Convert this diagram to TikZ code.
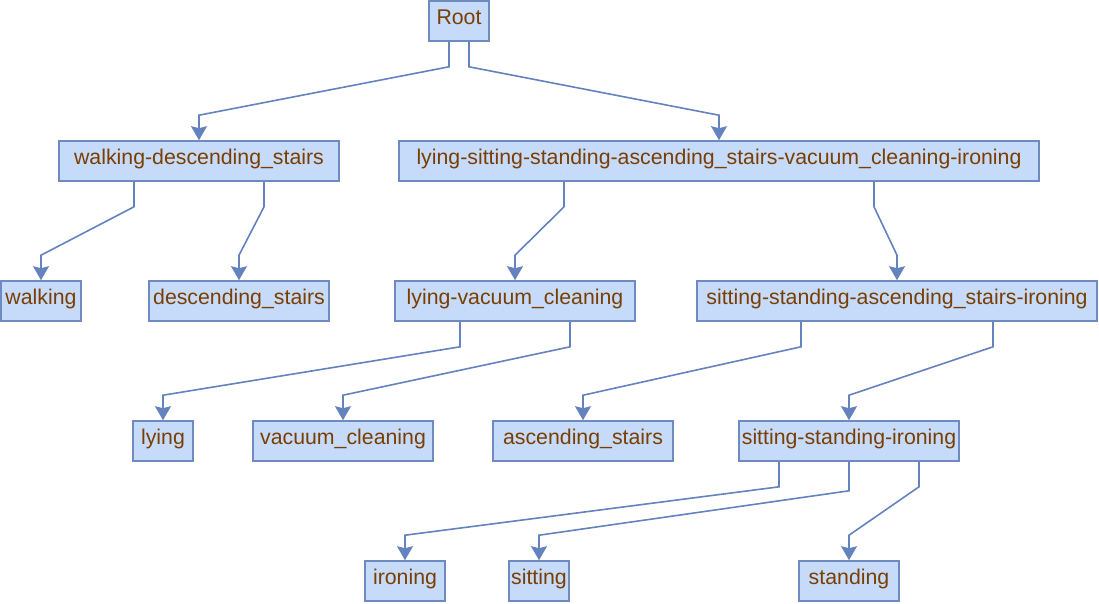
\documentclass[tikz,border=0pt]{standalone}
\usepackage{fontspec}
\setmainfont{Liberation Sans}
\usetikzlibrary{arrows.meta,calc}
\definecolor{boxfill}{RGB}{198,218,250}
\definecolor{boxline}{RGB}{110,138,192}
\definecolor{txt}{RGB}{122,62,0}
\definecolor{edgec}{RGB}{100,130,190}
\begin{document}
\begin{tikzpicture}[x=1pt,y=-1pt,
 box/.style={draw=boxline,fill=boxfill,line width=1.6pt,minimum height=40pt,inner sep=0pt,text=txt,font=\fontsize{21.3}{24}\selectfont,text height=14.5pt,text depth=7pt,anchor=center},
 edge/.style={draw=edgec,line width=1.6pt,-{Stealth[length=14pt,width=16pt,inset=2pt]}}]
\useasboundingbox (0,0) rectangle (1099,603);
\node[box,minimum width=60pt] (root) at (459,21) {Root};
\node[box,minimum width=280pt] (wd) at (199,161) {walking-descending\_stairs};
\node[box,minimum width=640pt] (big) at (719,161) {lying-sitting-standing-ascending\_stairs-vacuum\_cleaning-ironing};
\node[box,minimum width=80pt] (walking) at (41,301) {walking};
\node[box,minimum width=180pt] (desc) at (239,301) {descending\_stairs};
\node[box,minimum width=240pt] (lv) at (515,301) {lying-vacuum\_cleaning};
\node[box,minimum width=400pt] (ssai) at (897,301) {sitting-standing-ascending\_stairs-ironing};
\node[box,minimum width=60pt] (lying) at (163,441) {lying};
\node[box,minimum width=180pt] (vac) at (343,441) {vacuum\_cleaning};
\node[box,minimum width=180pt] (asc) at (583,441) {ascending\_stairs};
\node[box,minimum width=220pt] (ssi) at (849,441) {sitting-standing-ironing};
\node[box,minimum width=80pt] (ironing) at (405,581) {ironing};
\node[box,minimum width=60pt] (sitting) at (539,581) {sitting};
\node[box,minimum width=100pt] (standing) at (849,581) {standing};
\draw[edge] ([xshift=-10pt]root.south) -- ++(0,25) -- ($(wd.north)+(0,-25)$) -- (wd.north);
\draw[edge] ([xshift=10pt]root.south) -- ++(0,25) -- ($(big.north)+(0,-25)$) -- (big.north);
\draw[edge] ([xshift=-65pt]wd.south) -- ++(0,25) -- ($(walking.north)+(0,-25)$) -- (walking.north);
\draw[edge] ([xshift=65pt]wd.south) -- ++(0,25) -- ($(desc.north)+(0,-25)$) -- (desc.north);
\draw[edge] ([xshift=-155pt]big.south) -- ++(0,25) -- ($(lv.north)+(0,-25)$) -- (lv.north);
\draw[edge] ([xshift=155pt]big.south) -- ++(0,25) -- ($(ssai.north)+(0,-25)$) -- (ssai.north);
\draw[edge] ([xshift=-55pt]lv.south) -- ++(0,25) -- ($(lying.north)+(0,-25)$) -- (lying.north);
\draw[edge] ([xshift=55pt]lv.south) -- ++(0,25) -- ($(vac.north)+(0,-25)$) -- (vac.north);
\draw[edge] ([xshift=-96pt]ssai.south) -- ++(0,25) -- ($(asc.north)+(0,-25)$) -- (asc.north);
\draw[edge] ([xshift=96pt]ssai.south) -- ++(0,25) -- ($(ssi.north)+(0,-25)$) -- (ssi.north);
\draw[edge] ([xshift=-70pt]ssi.south) -- ++(0,25) -- ($(ironing.north)+(0,-25)$) -- (ironing.north);
\draw[edge] (ssi.south) -- ++(0,29) -- ($(sitting.north)+(0,-25)$) -- (sitting.north);
\draw[edge] ([xshift=70pt]ssi.south) -- ++(0,25) -- ($(standing.north)+(0,-25)$) -- (standing.north);
\end{tikzpicture}
\end{document}
